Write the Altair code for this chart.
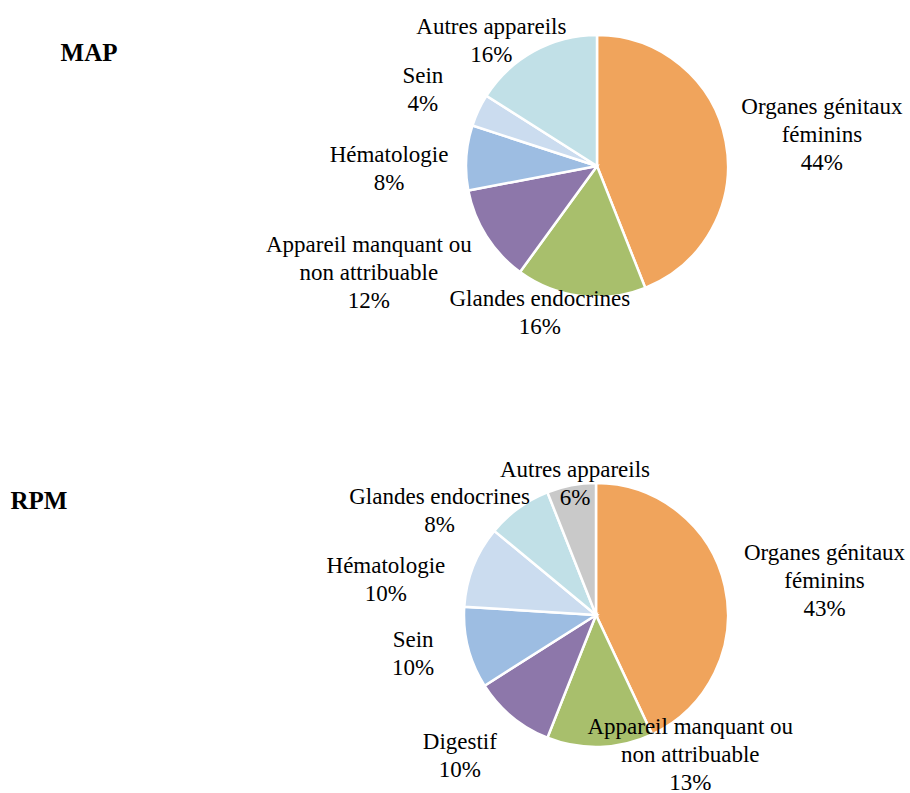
import math
import textwrap

import altair as alt
import pandas as pd

# Répartition par appareil, MAP
map_categories = [
    "Organes génitaux féminins",
    "Glandes endocrines",
    "Appareil manquant ou non attribuable",
    "Hématologie",
    "Sein",
    "Autres appareils",
]
map_values = [44, 16, 12, 8, 4, 16]

# Répartition par appareil, RPM
rpm_categories = [
    "Organes génitaux féminins",
    "Appareil manquant ou non attribuable",
    "Digestif",
    "Sein",
    "Hématologie",
    "Glandes endocrines",
    "Autres appareils",
]
rpm_values = [43, 13, 10, 10, 10, 8, 6]

# Slice fills, in slice order
map_colors = ["#F0A45C", "#A8BF6C", "#8D77AA", "#9DBDE2", "#CBDCEF", "#C1E0E7"]
rpm_colors = ["#F0A45C", "#A8BF6C", "#8D77AA", "#9DBDE2", "#CBDCEF", "#C1E0E7", "#C9C9C9"]

# Data-label placement ("best fit"): distance of the label block from the
# pie centre, and how far it is turned away from the slice's mid-angle (deg)
map_label_place = [(227, 3.0), (158, 14.0), (252, 7.3), (208, -4.4), (190, -1.6), (164, -11.3)]
rpm_label_place = [(231, 4.2), (169, -32.1), (196, 4.4), (187, 2.4), (213, -12.1), (188, -20.3), (133, 1.7)]

FONT = "Liberation Serif"
FONT_SIZE = 23
LINE_H = 28


def build_frame(categories, values, colors, placement):
    total = sum(values)
    rows = []
    cum = 0
    for i, (cat, val) in enumerate(zip(categories, values)):
        lines = textwrap.wrap(cat, width=20) + [f"{val}%"]
        dist, turn = placement[i]
        ang = math.radians(360 * (cum + val / 2) / total + turn)
        # centre of the label block, then the first line's anchor above it
        bx = dist * math.sin(ang)
        by = -dist * math.cos(ang) - (len(lines) - 1) * LINE_H / 2
        first_ang = math.degrees(math.atan2(bx, -by)) % 360
        rows.append(
            {
                "idx": i,
                "category": cat,
                "value": val,
                "color": colors[i],
                "label": "\n".join(lines),
                "label_theta": first_ang / 360 * total,
                "label_r": math.hypot(bx, by),
            }
        )
        cum += val
    return pd.DataFrame(rows), total


def pie(categories, values, colors, placement, cx, cy, radius):
    df, total = build_frame(categories, values, colors, placement)
    theta_scale = alt.Scale(domain=[0, total], range=[0, 2 * math.pi])
    base = alt.Chart(df).encode(x=alt.value(cx), y=alt.value(cy))
    arcs = base.mark_arc(outerRadius=radius, stroke="white", strokeWidth=2.5).encode(
        theta=alt.Theta("value:Q", stack=True, scale=theta_scale),
        order=alt.Order("idx:Q"),
        color=alt.Color("color:N", scale=None),
    )
    labels = base.mark_text(
        font=FONT,
        fontSize=FONT_SIZE,
        lineHeight=LINE_H,
        lineBreak="\n",
        align="center",
        baseline="middle",
        color="#000000",
    ).encode(
        theta=alt.Theta("label_theta:Q", stack=None, scale=theta_scale),
        radius=alt.Radius("label_r:Q", scale=None),
        text="label:N",
    )
    return alt.layer(arcs, labels)


def heading(name, hx, hy):
    return alt.Chart(pd.DataFrame({"t": [name]})).mark_text(
        font=FONT, fontSize=25, fontWeight="bold", color="#000000",
        align="center", baseline="middle",
    ).encode(text="t:N", x=alt.value(hx), y=alt.value(hy))


chart = (
    alt.layer(
        pie(map_categories, map_values, map_colors, map_label_place, 597, 166, 131),
        heading("MAP", 89, 53),
        pie(rpm_categories, rpm_values, rpm_colors, rpm_label_place, 596, 615, 132),
        heading("RPM", 39, 501),
    )
    .resolve_scale(theta="independent")
    .properties(width=910, height=793, autosize="none", padding=0, background="white")
    .configure_view(stroke=None)
)

chart.save("out.html", embed_options={"renderer": "svg", "actions": False})
